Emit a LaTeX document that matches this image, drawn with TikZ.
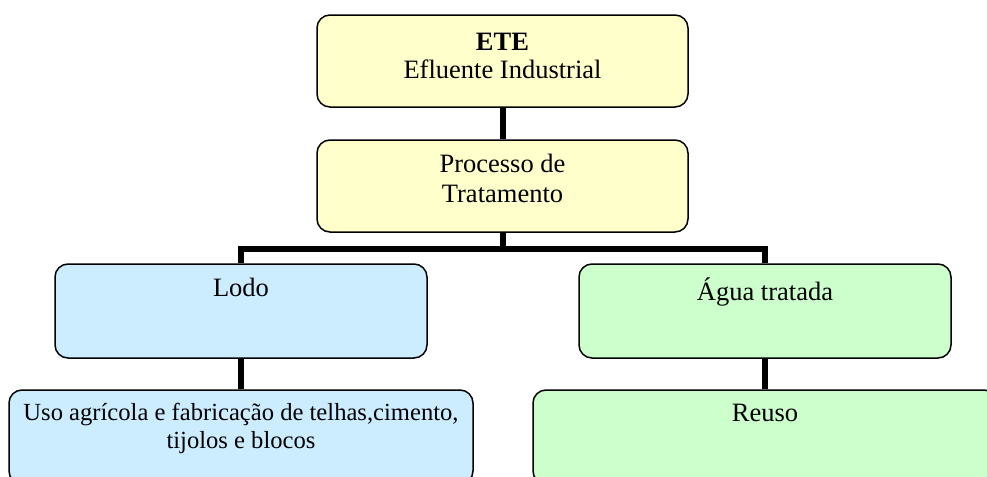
\documentclass[tikz,border=0pt]{standalone}
\usepackage{fontspec}
\setmainfont{Liberation Serif}
\definecolor{amarelo}{HTML}{FFFFCC}
\definecolor{azul}{HTML}{CCECFF}
\definecolor{verde}{HTML}{CCFFCC}
\tikzset{
  caixa/.style={draw, rounded corners=6.5pt, line width=0.75pt, inner sep=0pt,
    minimum width=186pt, minimum height=47pt},
  larga/.style={caixa, minimum width=232pt},
  texto/.style={anchor=north, yshift=-7pt, inner sep=0pt, align=center,
    font=\fontsize{13.25pt}{14pt}\selectfont},
  liga/.style={line width=3pt}
}

\begin{document}
\begin{tikzpicture}[x=0.5pt,y=-0.5pt]
\useasboundingbox (0,0) rectangle (987,477);
\clip (0,0) rectangle (987,477);

\node[caixa, fill=amarelo, minimum width=185.5pt, minimum height=46pt,
  label={[texto,yshift=-2pt]north:{\textbf{ETE}\\Efluente Industrial}}] (ete) at (502.5,61) {};
\node[caixa, fill=amarelo, minimum width=185.5pt, minimum height=46pt,
  label={[texto,font=\fontsize{13.25pt}{15pt}\selectfont]north:{Processo de\\Tratamento}}] (proc) at (502.5,186) {};

\node[caixa, fill=azul, label={[texto]north:Lodo}] (lodo) at (241,311) {};
\node[caixa, fill=verde, label={[texto]north:{Água tratada}}] (agua) at (765,311) {};

\node[larga, fill=azul,
  label={[texto,font=\fontsize{12.3pt}{13.8pt}\selectfont]north:{Uso agrícola e fabricação de telhas,cimento,\\tijolos e blocos}}] (uso) at (241,437) {};
\node[larga, fill=verde, label={[texto]north:Reuso}] (reuso) at (765,437) {};

\coordinate (ramo) at (502.5,249);
\draw[liga] (ete) -- (proc);
\draw[liga] (proc) -- (ramo);
\draw[liga] (lodo.north) |- (ramo) -| (agua.north);
\draw[liga] (lodo) -- (uso);
\draw[liga] (agua) -- (reuso);

\end{tikzpicture}
\end{document}
